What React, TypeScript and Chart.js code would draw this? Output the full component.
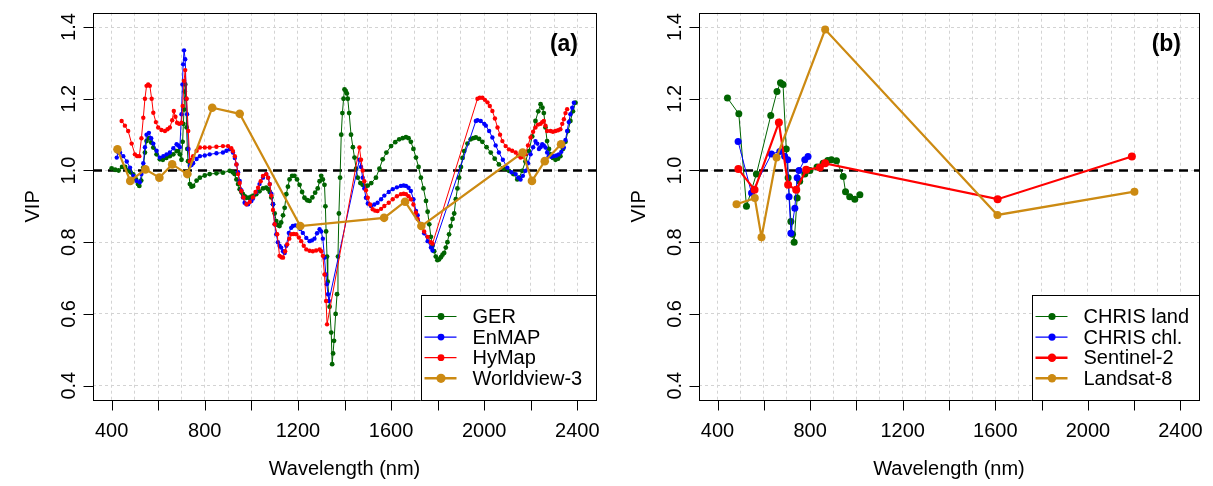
import React, { useEffect, useRef } from 'react';
import { Chart, registerables } from 'chart.js';

Chart.register(...registerables);

const FONT = '"Liberation Sans", Arial, Helvetica, sans-serif';

// ---------- axes ----------
const X_MIN = 320;
const X_MAX = 2480;
const Y_MIN = 0.36;
const Y_MAX = 1.44;
const X_GRID = [400, 500, 600, 700, 800, 900, 1000, 1100, 1200, 1300, 1400, 1500, 1600, 1700, 1800, 1900, 2000, 2100, 2200, 2300, 2400];
const X_TICKS = [400, 600, 800, 1000, 1200, 1400, 1600, 1800, 2000, 2200, 2400];
const X_LABELS = [400, 800, 1200, 1600, 2000, 2400];
const Y_TICKS = [0.4, 0.6, 0.8, 1.0, 1.2, 1.4];
const Y_LABELS = ['0.4', '0.6', '0.8', '1.0', '1.2', '1.4'];
const THRESHOLD = 1.0;

// ---------- panel (a) ----------
const GER_WL = [400, 415, 430, 445, 458, 470, 482, 493, 505, 513, 519, 527, 536, 543, 550, 560, 570, 579, 593, 607, 620, 635, 650, 665, 679, 686, 693, 700, 705, 708, 711, 714, 716, 719, 722, 725, 728, 732, 736, 743, 750, 765, 779, 800, 821, 850, 878, 907, 920, 928, 936, 943, 950, 957, 964, 972, 979, 990, 1000, 1010, 1021, 1035, 1050, 1064, 1072, 1079, 1086, 1093, 1100, 1107, 1114, 1121, 1128, 1136, 1143, 1150, 1157, 1164, 1175, 1185, 1196, 1207, 1218, 1228, 1240, 1250, 1262, 1274, 1285, 1293, 1300, 1307, 1314, 1318, 1321, 1325, 1328, 1336, 1343, 1347, 1351, 1355, 1362, 1368, 1372, 1376, 1381, 1386, 1391, 1396, 1400, 1405, 1410, 1414, 1420, 1428, 1436, 1443, 1450, 1457, 1468, 1478, 1490, 1500, 1515, 1535, 1550, 1564, 1580, 1600, 1618, 1635, 1650, 1664, 1675, 1685, 1696, 1707, 1718, 1728, 1739, 1750, 1757, 1764, 1771, 1778, 1785, 1792, 1799, 1806, 1814, 1821, 1828, 1835, 1842, 1849, 1856, 1864, 1871, 1878, 1885, 1892, 1900, 1907, 1914, 1928, 1942, 1953, 1964, 1978, 1992, 2010, 2028, 2045, 2063, 2085, 2106, 2125, 2142, 2150, 2163, 2177, 2192, 2206, 2220, 2232, 2242, 2250, 2256, 2263, 2270, 2278, 2285, 2295, 2306, 2317, 2327, 2338, 2349, 2360, 2370, 2381, 2392];
const GER_VIP = [1.006, 1.002, 1.0, 1.01, 1.01, 1.0, 0.995, 0.989, 0.975, 0.962, 0.957, 0.972, 1.008, 1.05, 1.082, 1.09, 1.078, 1.064, 1.045, 1.031, 1.03, 1.035, 1.04, 1.045, 1.054, 1.054, 1.045, 1.03, 1.08, 1.13, 1.17, 1.22, 1.24, 1.2, 1.12, 1.06, 1.026, 0.99, 0.962, 0.955, 0.957, 0.972, 0.98, 0.986, 0.99, 0.992, 0.994, 0.999, 0.995, 0.99, 0.975, 0.962, 0.948, 0.94, 0.934, 0.928, 0.924, 0.924, 0.927, 0.93, 0.934, 0.942, 0.95, 0.952, 0.948, 0.94, 0.925, 0.906, 0.88, 0.859, 0.848, 0.845, 0.855, 0.875, 0.896, 0.934, 0.955, 0.975, 0.985, 0.985, 0.975, 0.96, 0.94, 0.924, 0.917, 0.915, 0.925, 0.938, 0.95, 0.97, 0.985, 0.975, 0.96, 0.9, 0.83, 0.76, 0.69, 0.62, 0.548, 0.46, 0.49, 0.525, 0.6, 0.655, 0.76, 0.88, 0.98, 1.1, 1.16, 1.2, 1.226, 1.222, 1.215, 1.2, 1.16, 1.1, 1.065, 1.036, 1.005, 0.98, 0.965, 0.96, 0.957, 0.958, 0.965, 0.98, 1.005, 1.031, 1.05, 1.068, 1.079, 1.087, 1.09, 1.093, 1.09, 1.08, 1.06, 1.036, 1.01, 0.98, 0.95, 0.915, 0.885, 0.85, 0.815, 0.79, 0.775, 0.76, 0.75, 0.752, 0.758, 0.765, 0.77, 0.785, 0.8, 0.822, 0.845, 0.865, 0.88, 0.92, 0.95, 0.98, 1.01, 1.035, 1.054, 1.075, 1.087, 1.09, 1.092, 1.088, 1.08, 1.065, 1.05, 1.033, 1.017, 1.005, 0.999, 0.99, 0.975, 0.98, 0.999, 1.025, 1.054, 1.095, 1.138, 1.165, 1.185, 1.175, 1.16, 1.12, 1.082, 1.06, 1.045, 1.035, 1.03, 1.033, 1.04, 1.06, 1.08, 1.11, 1.138, 1.165, 1.189];

const ENMAP_WL = [422, 429, 436, 450, 465, 479, 493, 507, 521, 528, 536, 543, 550, 560, 570, 579, 593, 607, 622, 636, 650, 665, 679, 686, 693, 700, 704, 707, 711, 716, 721, 724, 730, 736, 743, 750, 765, 779, 800, 821, 850, 878, 893, 907, 921, 929, 936, 943, 950, 957, 964, 971, 979, 986, 1000, 1007, 1021, 1035, 1050, 1064, 1072, 1079, 1086, 1093, 1100, 1107, 1114, 1121, 1128, 1136, 1143, 1150, 1161, 1171, 1178, 1189, 1200, 1210, 1221, 1236, 1250, 1260, 1271, 1282, 1293, 1300, 1307, 1314, 1320, 1324, 1329, 1333, 1464, 1471, 1478, 1485, 1492, 1500, 1514, 1528, 1542, 1557, 1571, 1590, 1607, 1625, 1642, 1654, 1664, 1675, 1685, 1696, 1707, 1714, 1728, 1742, 1757, 1771, 1778, 1964, 1971, 1985, 2000, 2007, 2021, 2035, 2049, 2063, 2080, 2099, 2117, 2135, 2146, 2156, 2166, 2177, 2188, 2199, 2210, 2220, 2228, 2235, 2242, 2249, 2256, 2263, 2270, 2277, 2288, 2299, 2310, 2320, 2331, 2342, 2349, 2356, 2363, 2370, 2378, 2385];
const ENMAP_VIP = [1.036, 1.05, 1.05, 1.04, 1.025, 1.008, 0.985, 0.971, 0.967, 0.99, 1.02, 1.065, 1.1, 1.105, 1.09, 1.075, 1.055, 1.036, 1.04, 1.045, 1.05, 1.062, 1.073, 1.07, 1.065, 1.157, 1.24, 1.296, 1.335, 1.31, 1.2, 1.157, 1.06, 1.013, 1.015, 1.02, 1.032, 1.04, 1.042, 1.045, 1.048, 1.05, 1.055, 1.059, 1.05, 1.035, 1.017, 0.995, 0.971, 0.945, 0.925, 0.91, 0.906, 0.906, 0.915, 0.922, 0.94, 0.962, 0.98, 0.99, 0.98, 0.962, 0.935, 0.906, 0.85, 0.822, 0.8, 0.79, 0.785, 0.775, 0.77, 0.79, 0.826, 0.84, 0.845, 0.847, 0.845, 0.837, 0.826, 0.812, 0.803, 0.805, 0.81, 0.825, 0.836, 0.83, 0.81, 0.757, 0.71, 0.683, 0.655, 0.636, 1.03, 1.01, 0.98, 0.95, 0.924, 0.908, 0.901, 0.905, 0.91, 0.92, 0.93, 0.94, 0.948, 0.953, 0.957, 0.958, 0.957, 0.952, 0.943, 0.92, 0.887, 0.875, 0.85, 0.825, 0.803, 0.785, 0.777, 1.138, 1.14, 1.138, 1.13, 1.125, 1.11, 1.092, 1.07, 1.05, 1.03, 1.008, 0.995, 0.99, 0.98, 0.975, 0.985, 0.999, 1.02, 1.045, 1.065, 1.082, 1.075, 1.06, 1.065, 1.073, 1.07, 1.064, 1.05, 1.04, 1.038, 1.04, 1.042, 1.045, 1.052, 1.064, 1.085, 1.11, 1.135, 1.157, 1.175, 1.189];

const HYMAP_WL = [443, 457, 471, 486, 500, 510, 519, 528, 536, 543, 550, 557, 564, 572, 579, 590, 600, 614, 629, 640, 650, 660, 667, 674, 681, 690, 700, 705, 711, 716, 722, 729, 736, 743, 750, 765, 779, 800, 821, 850, 878, 900, 914, 921, 929, 936, 943, 950, 957, 966, 979, 993, 1007, 1018, 1029, 1040, 1050, 1064, 1072, 1079, 1086, 1093, 1100, 1111, 1121, 1129, 1136, 1145, 1154, 1163, 1171, 1182, 1193, 1204, 1214, 1225, 1236, 1250, 1264, 1278, 1293, 1300, 1307, 1314, 1321, 1325, 1464, 1471, 1478, 1485, 1492, 1500, 1510, 1521, 1532, 1542, 1557, 1571, 1590, 1607, 1625, 1642, 1654, 1664, 1675, 1685, 1696, 1707, 1714, 1728, 1742, 1757, 1771, 1778, 1971, 1981, 1992, 2003, 2014, 2024, 2035, 2046, 2057, 2068, 2078, 2092, 2106, 2120, 2135, 2146, 2156, 2166, 2177, 2188, 2199, 2210, 2220, 2231, 2242, 2249, 2256, 2263, 2270, 2285, 2295, 2306, 2317, 2327, 2335, 2342, 2349, 2356];
const HYMAP_VIP = [1.138, 1.125, 1.11, 1.075, 1.045, 1.04, 1.04, 1.09, 1.147, 1.2, 1.236, 1.24, 1.236, 1.2, 1.161, 1.135, 1.12, 1.113, 1.11, 1.115, 1.12, 1.14, 1.166, 1.15, 1.133, 1.13, 1.133, 1.18, 1.25, 1.28, 1.2, 1.11, 1.026, 1.03, 1.04, 1.055, 1.064, 1.064, 1.064, 1.066, 1.068, 1.068, 1.062, 1.054, 1.04, 1.017, 0.99, 0.965, 0.943, 0.925, 0.906, 0.912, 0.925, 0.94, 0.952, 0.97, 0.985, 0.99, 0.98, 0.962, 0.93, 0.89, 0.85, 0.822, 0.762, 0.758, 0.757, 0.775, 0.794, 0.81, 0.822, 0.823, 0.822, 0.813, 0.803, 0.79, 0.78, 0.776, 0.775, 0.777, 0.78, 0.775, 0.762, 0.71, 0.636, 0.571, 1.064, 1.03, 1.0, 0.97, 0.945, 0.924, 0.905, 0.892, 0.888, 0.887, 0.893, 0.901, 0.91, 0.92, 0.928, 0.934, 0.935, 0.934, 0.928, 0.92, 0.905, 0.882, 0.865, 0.848, 0.83, 0.815, 0.8, 0.796, 1.2, 1.203, 1.203, 1.197, 1.19, 1.18, 1.166, 1.145, 1.12, 1.1, 1.082, 1.068, 1.059, 1.055, 1.05, 1.042, 1.036, 1.038, 1.045, 1.07, 1.092, 1.108, 1.12, 1.128, 1.13, 1.135, 1.138, 1.125, 1.11, 1.11, 1.108, 1.11, 1.112, 1.115, 1.13, 1.143, 1.16, 1.171];

const WV3_WL = [425, 480, 545, 605, 660, 725, 832, 950, 1210, 1570, 1660, 1730, 2165, 2205, 2260, 2330];
const WV3_VIP = [1.059, 0.971, 1.003, 0.98, 1.017, 0.99, 1.175, 1.158, 0.845, 0.868, 0.913, 0.845, 1.05, 0.971, 1.026, 1.073];

// ---------- panel (b) ----------
const CHRIS_LAND_WL = [443, 492, 525, 568, 630, 657, 672, 683, 697, 705, 717, 724, 731, 744, 755, 777, 799, 830, 856, 876, 892, 914, 943, 953, 971, 993, 1015];
const CHRIS_LAND_VIP = [1.202, 1.158, 0.9, 0.99, 1.153, 1.22, 1.245, 1.24, 1.06, 0.98, 0.858, 0.822, 0.8, 0.923, 0.97, 0.99, 1.0, 1.01, 1.02, 1.028, 1.03, 1.027, 0.983, 0.941, 0.927, 0.92, 0.932];

const CHRIS_CHL_WL = [489, 547, 633, 669, 690, 703, 709, 717, 734, 744, 752, 777, 791];
const CHRIS_CHL_VIP = [1.081, 0.937, 1.046, 1.053, 1.04, 1.03, 0.927, 0.825, 0.895, 0.98, 1.0, 1.03, 1.039];

const S2_WL = [490, 560, 665, 705, 740, 783, 842, 865, 1610, 2190];
const S2_VIP = [1.004, 0.946, 1.134, 0.96, 0.946, 1.002, 1.008, 1.02, 0.92, 1.039];

const L8_WL = [482, 561, 590, 655, 865, 1609, 2201];
const L8_VIP = [0.906, 0.923, 0.814, 1.036, 1.393, 0.876, 0.941];

// ---------- styles ----------
const C_GREEN = '#006400';
const C_BLUE = '#0000FF';
const C_RED = '#FF0000';
const C_GOLD = '#CC8A12';

type Series = {
  label: string;
  wl: number[];
  vip: number[];
  color: string;
  lineWidth: number;
  radius: number;
  legendLine: number;
  legendRadius: number;
};

const PANEL_A: Series[] = [
  { label: 'GER', wl: GER_WL, vip: GER_VIP, color: C_GREEN, lineWidth: 1, radius: 2.4, legendLine: 1.2, legendRadius: 3.4 },
  { label: 'EnMAP', wl: ENMAP_WL, vip: ENMAP_VIP, color: C_BLUE, lineWidth: 1, radius: 2.2, legendLine: 1.2, legendRadius: 3.4 },
  { label: 'HyMap', wl: HYMAP_WL, vip: HYMAP_VIP, color: C_RED, lineWidth: 1, radius: 2.2, legendLine: 1.2, legendRadius: 3.4 },
  { label: 'Worldview-3', wl: WV3_WL, vip: WV3_VIP, color: C_GOLD, lineWidth: 2.2, radius: 4.3, legendLine: 2.6, legendRadius: 4.6 },
];

const PANEL_B: Series[] = [
  { label: 'CHRIS land', wl: CHRIS_LAND_WL, vip: CHRIS_LAND_VIP, color: C_GREEN, lineWidth: 1, radius: 3.5, legendLine: 1.2, legendRadius: 3.6 },
  { label: 'CHRIS chl.', wl: CHRIS_CHL_WL, vip: CHRIS_CHL_VIP, color: C_BLUE, lineWidth: 1, radius: 3.5, legendLine: 1.2, legendRadius: 3.6 },
  { label: 'Sentinel-2', wl: S2_WL, vip: S2_VIP, color: C_RED, lineWidth: 2.2, radius: 4, legendLine: 2.6, legendRadius: 4.2 },
  { label: 'Landsat-8', wl: L8_WL, vip: L8_VIP, color: C_GOLD, lineWidth: 2.2, radius: 4, legendLine: 2.6, legendRadius: 4.2 },
];

type PanelCfg = {
  series: Series[];
  tag: string;
  width: number;
  padRight: number;
  legendLeft: number;
};

function framePlugin(cfg: PanelCfg) {
  return {
    id: 'rframe',
    afterDraw(chart: any) {
      const { ctx, chartArea: a, scales } = chart;
      const xs = scales.x;
      const ys = scales.y;
      ctx.save();
      ctx.setLineDash([]);
      ctx.strokeStyle = '#000';
      ctx.lineWidth = 1;
      const L = Math.round(a.left) + 0.5;
      const R = Math.round(a.right) + 0.5;
      const T = Math.round(a.top) + 0.5;
      const B = Math.round(a.bottom) + 0.5;
      ctx.strokeRect(L, T, R - L, B - T);
      ctx.beginPath();
      for (const v of X_TICKS) {
        const px = Math.round(xs.getPixelForValue(v)) + 0.5;
        ctx.moveTo(px, B);
        ctx.lineTo(px, B + 10);
      }
      for (const v of Y_TICKS) {
        const py = Math.round(ys.getPixelForValue(v)) + 0.5;
        ctx.moveTo(L, py);
        ctx.lineTo(L - 10, py);
      }
      ctx.stroke();

      ctx.fillStyle = '#000';
      ctx.font = `20px ${FONT}`;
      ctx.textAlign = 'center';
      ctx.textBaseline = 'middle';
      for (const v of X_LABELS) {
        ctx.fillText(String(v), xs.getPixelForValue(v), 431);
      }
      ctx.fillText('Wavelength (nm)', (a.left + a.right) / 2, 469);
      Y_TICKS.forEach((v, i) => {
        const py = ys.getPixelForValue(v);
        ctx.save();
        ctx.translate(a.left - 24, py);
        ctx.rotate(-Math.PI / 2);
        ctx.fillText(Y_LABELS[i], 0, 0);
        ctx.restore();
      });
      ctx.save();
      ctx.translate(a.left - 60, (a.top + a.bottom) / 2);
      ctx.rotate(-Math.PI / 2);
      ctx.fillText('VIP', 0, 0);
      ctx.restore();

      // panel tag
      ctx.font = `bold 23px ${FONT}`;
      ctx.textAlign = 'right';
      ctx.fillText(cfg.tag, a.right - 18, 45);

      // legend
      const lx = cfg.legendLeft;
      const ly = 295.5;
      ctx.fillStyle = '#fff';
      ctx.fillRect(lx, ly, R - lx, B - ly);
      ctx.strokeStyle = '#000';
      ctx.lineWidth = 1;
      ctx.strokeRect(Math.round(lx) + 0.5, ly, R - Math.round(lx) - 0.5, B - ly);
      ctx.font = `20px ${FONT}`;
      ctx.textAlign = 'left';
      ctx.textBaseline = 'middle';
      cfg.series.forEach((s, i) => {
        const y = 316.5 + i * 20.6;
        ctx.strokeStyle = s.color;
        ctx.lineWidth = s.legendLine;
        ctx.beginPath();
        ctx.moveTo(lx + 4, y);
        ctx.lineTo(lx + 36, y);
        ctx.stroke();
        ctx.fillStyle = s.color;
        ctx.beginPath();
        ctx.arc(lx + 20.5, y, s.legendRadius, 0, Math.PI * 2);
        ctx.fill();
        ctx.fillStyle = '#000';
        ctx.fillText(s.label, lx + 52, y + 1);
      });
      ctx.restore();
    },
  };
}

function Panel({ cfg, left }: { cfg: PanelCfg; left: number }) {
  const ref = useRef<HTMLCanvasElement | null>(null);
  useEffect(() => {
    const canvas = ref.current;
    if (!canvas) return;
    const n = cfg.series.length;
    const datasets: any[] = cfg.series.map((s, i) => ({
      label: s.label,
      data: s.wl.map((x, k) => ({ x, y: s.vip[k] })),
      showLine: true,
      borderColor: s.color,
      backgroundColor: s.color,
      borderWidth: s.lineWidth,
      pointRadius: s.radius,
      pointBackgroundColor: s.color,
      pointBorderColor: s.color,
      pointBorderWidth: 0,
      tension: 0,
      order: n - i,
    }));
    datasets.push({
      label: 'threshold',
      data: [{ x: X_MIN, y: THRESHOLD }, { x: X_MAX, y: THRESHOLD }],
      showLine: true,
      borderColor: '#000',
      borderWidth: 2.5,
      borderDash: [9, 6],
      pointRadius: 0,
      order: n + 5,
    });
    const chart = new Chart(canvas, {
      type: 'scatter',
      data: { datasets },
      options: {
        animation: false,
        responsive: false,
        devicePixelRatio: 1,
        events: [],
        layout: { padding: { left: 0, top: 12.7, right: cfg.padRight, bottom: 0 } },
        plugins: { legend: { display: false }, tooltip: { enabled: false } },
        scales: {
          x: {
            type: 'linear',
            min: X_MIN,
            max: X_MAX,
            afterBuildTicks: (s: any) => {
              s.ticks = X_GRID.map((v) => ({ value: v }));
            },
            afterFit: (s: any) => {
              s.height = 86;
            },
            ticks: { display: false },
            grid: { color: '#D3D3D3', lineWidth: 1, drawTicks: false },
            border: { display: false, dash: [3, 3] },
          },
          y: {
            type: 'linear',
            min: Y_MIN,
            max: Y_MAX,
            afterBuildTicks: (s: any) => {
              s.ticks = Y_TICKS.map((v) => ({ value: v }));
            },
            afterFit: (s: any) => {
              s.width = 93;
            },
            ticks: { display: false },
            grid: { color: '#D3D3D3', lineWidth: 1, drawTicks: false },
            border: { display: false, dash: [3, 3] },
          },
        },
      },
      plugins: [framePlugin(cfg)],
    } as any);
    return () => chart.destroy();
  }, [cfg]);
  return (
    <canvas
      ref={ref}
      width={cfg.width}
      height={486}
      style={{ position: 'absolute', left, top: 0, width: cfg.width, height: 486 }}
    />
  );
}

const CFG_A: PanelCfg = { series: PANEL_A, tag: '(a)', width: 606, padRight: 10, legendLeft: 420.5 };
const CFG_B: PanelCfg = { series: PANEL_B, tag: '(b)', width: 607, padRight: 14, legendLeft: 425.5 };

export default function App() {
  return (
    <div style={{ position: 'absolute', left: 0, top: 0, width: 1213, height: 486, background: '#fff' }}>
      <Panel cfg={CFG_A} left={0} />
      <Panel cfg={CFG_B} left={606} />
    </div>
  );
}
